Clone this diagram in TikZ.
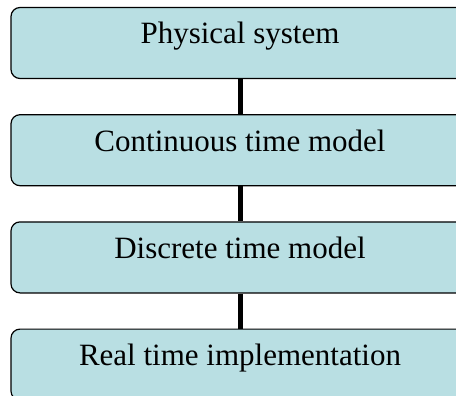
\documentclass[tikz,border=0pt]{standalone}
\usepackage{fontspec}
\setmainfont{Liberation Serif}
\usepackage{tikz}
\usetikzlibrary{positioning}
\definecolor{boxfill}{RGB}{185,223,227}

\begin{document}
\begin{tikzpicture}[x=1pt,y=1pt,
  stage/.style={draw=black, line width=1.2pt, fill=boxfill, rounded corners=9pt,
    minimum width=458pt, minimum height=71pt, inner sep=0pt,
    text height=28pt, text depth=26pt, font=\fontsize{31}{36}\selectfont},
  link/.style={line width=5pt}]
\useasboundingbox (0,0) rectangle (456,-396);
\clip (0,0) rectangle (456,-396);
\node[stage] (phys) at (240,-43) {Physical system};
\node[stage, below=35pt of phys] (cont) {Continuous time model};
\node[stage, below=35pt of cont] (disc) {Discrete time model};
\node[stage, below=35pt of disc] (real) {Real time implementation};
\draw[link] (phys) -- (cont);
\draw[link] (cont) -- (disc);
\draw[link] (disc) -- (real);
\end{tikzpicture}
\end{document}
